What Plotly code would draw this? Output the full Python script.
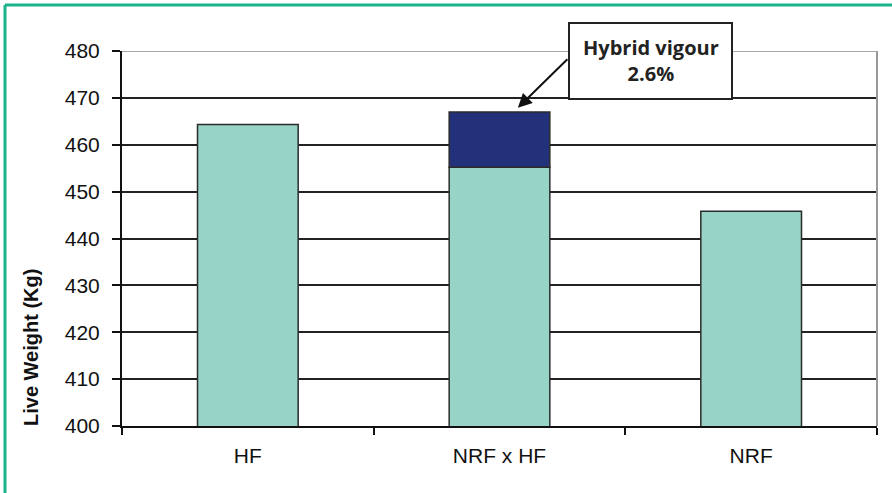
import plotly.graph_objects as go

categories = ["HF", "NRF x HF", "NRF"]
base_weight = [464.3, 455.2, 445.8]
hybrid_vigour = [None, 11.8, None]
y_ticks = [400, 410, 420, 430, 440, 450, 460, 470, 480]
annotation_text = "<b>Hybrid vigour<br>2.6%</b>"
y_title = "Live Weight (Kg)"

W, H = 892, 493
L, R, T, B = 122, 15, 51, 67
pw, ph = W - L - R, H - T - B

def px_x(x):
    return (x - L) / pw

def px_y(y):
    return (H - B - y) / ph

fig = go.Figure()
fig.add_trace(go.Bar(x=categories, y=base_weight, width=0.4,
                     marker=dict(color="#97D3C6", line=dict(color="#2b2b2b", width=1.5)),
                     showlegend=False, hoverinfo="y"))
fig.add_trace(go.Bar(x=categories, y=hybrid_vigour, width=0.4, base=[None, base_weight[1], None],
                     marker=dict(color="#22317A", line=dict(color="#2b2b2b", width=1.5)),
                     showlegend=False, hoverinfo="y"))

fig.update_layout(
    width=W, height=H,
    margin=dict(l=L, r=R, t=T, b=B),
    paper_bgcolor="white", plot_bgcolor="white",
    barmode="overlay",
    font=dict(family="Liberation Sans, Arial, sans-serif", color="#111"),
    xaxis=dict(range=[-0.5, 2.5], tickson="boundaries", ticks="outside", ticklen=7,
               tickwidth=1.5, tickcolor="#111", showline=True, linecolor="#111", linewidth=2,
               showgrid=False, tickfont=dict(size=21), ticklabelstandoff=10),
    yaxis=dict(range=[400, 480], tickvals=y_ticks, ticks="outside", ticklen=8,
               tickwidth=1.5, tickcolor="#111", showline=True, linecolor="#111", linewidth=2,
               showgrid=True, gridcolor="#222", gridwidth=1.5, zeroline=False,
               tickfont=dict(size=21), ticklabelstandoff=8),
)

# gray top grid line and right border
fig.add_shape(type="line", xref="paper", yref="y", x0=0, x1=1, y0=480, y1=480,
              line=dict(color="#8a8a8a", width=1.5))
fig.add_shape(type="line", xref="paper", yref="paper", x0=1, x1=1, y0=0, y1=1,
              line=dict(color="#999", width=2))
# green frame (top and left)
fig.add_shape(type="line", xref="paper", yref="paper", x0=px_x(5), x1=px_x(W + 5), y0=px_y(5), y1=px_y(5),
              line=dict(color="#1BB38B", width=3))
fig.add_shape(type="line", xref="paper", yref="paper", x0=px_x(5), x1=px_x(5), y0=px_y(5), y1=px_y(H + 5),
              line=dict(color="#1BB38B", width=3))
# callout box
fig.add_shape(type="rect", xref="paper", yref="paper", x0=px_x(569), x1=px_x(732),
              y0=px_y(99), y1=px_y(23), fillcolor="white", line=dict(color="#222", width=2))

# arrow
fig.add_annotation(x=1.073, y=467.9, xref="x", yref="y", text="", showarrow=True,
                   ax=51, ay=-50, arrowhead=2, arrowsize=1.4, arrowwidth=2, arrowcolor="#111")
# box text
fig.add_annotation(xref="paper", yref="paper", x=px_x(650.5), y=px_y(60),
                   xanchor="center", yanchor="middle",
                   text=annotation_text, showarrow=False,
                   font=dict(family="Open Sans, Noto Sans, sans-serif", size=20, color="#222"),
                   align="center")
# y title
fig.add_annotation(xref="paper", yref="paper", x=px_x(31), y=px_y(348),
                   xanchor="center", yanchor="middle",
                   text="<b>" + y_title + "</b>",
                   textangle=-90, showarrow=False, font=dict(size=20, color="#111"))

fig.write_html("out.html", config={"displayModeBar": False},
               post_script="document.body.style.margin='0';document.body.style.overflow='hidden';")
